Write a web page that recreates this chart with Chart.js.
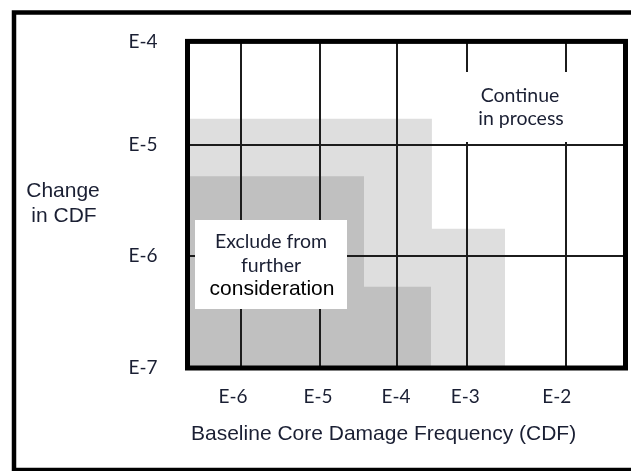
<!DOCTYPE html>
<html><head><meta charset="utf-8">
<script src="https://cdn.jsdelivr.net/npm/chart.js@4.4.1/dist/chart.umd.min.js"></script>
<style>html,body{margin:0;padding:0;background:#fff;overflow:hidden}#wrap{width:631px;height:471px;position:relative}</style>
</head><body><div id="wrap"><canvas id="c" width="631" height="471"></canvas></div>
<script>
// Decade positions along each (schematic, non-uniform) axis, 0..100 of the plot
const xTickLabels = ['E-6', 'E-5', 'E-4', 'E-3', 'E-2'];
const xGridPos = [12.2, 30.3, 47.8, 63.8, 86.4];
const xLabelPos = [10.4, 29.8, 47.6, 63.4, 84.3];
const yTickLabels = ['E-7', 'E-6', 'E-5', 'E-4'];
const yTickPos = [0, 34.2, 68.4, 100];
// Staircase regions (step corners, filled down to the axis)
const lightX = [0, 55.8, 72.5];
const lightY = [76.3, 42.6, 0];
const darkX = [0, 40.3, 55.6];
const darkY = [58.7, 24.9, 0];
const xAxisTitle = 'Baseline Core Damage Frequency (CDF)';
const yAxisTitle = ['Change', 'in CDF'];
const continueText = ['Continue', 'in process'];
const excludeText = ['Exclude from', 'further', 'consideration'];

const toPts = (xs, ys) => xs.map((x, i) => ({x: x, y: ys[i]}));
const CAL = 'Lato, "Open Sans", sans-serif';
const ARI = '"Liberation Sans", Arial, sans-serif';
const TXT = '#1a1f33';

const decor = {
  id: 'decor',
  afterDraw(chart) {
    const ctx = chart.ctx, a = chart.chartArea;
    ctx.save();
    // white label boxes (cover grid)
    ctx.fillStyle = '#fff';
    ctx.fillRect(462, 72, 116, 70);
    ctx.fillRect(195, 220, 152, 89);
    // texts
    ctx.textAlign = 'center';
    ctx.textBaseline = 'alphabetic';
    ctx.fillStyle = TXT;
    ctx.font = '19.5px ' + CAL;
    ctx.fillText(continueText[0], 520, 102);
    ctx.fillText(continueText[1], 521, 125);
    ctx.fillText(excludeText[0], 271, 248);
    ctx.fillText(excludeText[1], 271, 272);
    ctx.fillStyle = '#000';
    ctx.font = '21px ' + ARI;
    ctx.fillText(excludeText[2], 272, 295);
    ctx.fillStyle = TXT;
    ctx.fillText(yAxisTitle[0], 63, 197);
    ctx.fillText(yAxisTitle[1], 64, 222);
    ctx.textAlign = 'left';
    ctx.fillText(xAxisTitle, 191, 440);
    // thick plot border
    ctx.strokeStyle = '#000';
    ctx.lineWidth = 5;
    ctx.strokeRect(a.left, a.top, a.right - a.left, a.bottom - a.top);
    // outer frame
    ctx.lineWidth = 4.5;
    ctx.strokeRect(14, 12.5, 640, 457.5);
    ctx.restore();
  }
};

new Chart(document.getElementById('c'), {
  type: 'line',
  data: {
    datasets: [
      {data: toPts(darkX, darkY), stepped: true, fill: 'start', backgroundColor: '#c0c0c0',
       borderColor: 'rgba(0,0,0,0)', borderWidth: 0, pointRadius: 0},
      {data: toPts(lightX, lightY), stepped: true, fill: 'start', backgroundColor: '#dedede',
       borderColor: 'rgba(0,0,0,0)', borderWidth: 0, pointRadius: 0}
    ]
  },
  options: {
    responsive: false, animation: false, events: [],
    layout: {padding: {left: 0, top: 39, right: 5.5, bottom: 0}},
    plugins: {legend: {display: false}, tooltip: {enabled: false}, filler: {drawTime: 'beforeDraw'}},
    scales: {
      x: {
        type: 'linear', min: 0, max: 100, position: 'bottom',
        afterBuildTicks: s => { s.ticks = xGridPos.map(v => ({value: v})); },
        afterFit: s => { s.height = 0; },
        grid: {color: '#1c1c1c', lineWidth: 2, drawTicks: false},
        border: {display: false},
        ticks: {display: false}
      },
      xl: {
        type: 'linear', min: 0, max: 100, position: 'bottom',
        afterBuildTicks: s => { s.ticks = xLabelPos.map(v => ({value: v})); },
        afterFit: s => { s.height = 103; },
        grid: {display: false, drawTicks: false},
        border: {display: false},
        ticks: {padding: 17, color: TXT, font: {family: CAL, size: 19}, autoSkip: false, maxRotation: 0,
                callback: (v, i) => xTickLabels[i]}
      },
      y: {
        type: 'linear', min: 0, max: 100,
        afterBuildTicks: s => { s.ticks = yTickPos.map(v => ({value: v})); },
        afterFit: s => { s.width = 187.5; },
        grid: {color: '#1c1c1c', lineWidth: 2, drawTicks: false},
        border: {display: false},
        ticks: {padding: 30, color: TXT, font: {family: CAL, size: 19}, autoSkip: false,
                callback: (v, i) => yTickLabels[i]}
      }
    }
  },
  plugins: [decor]
});
</script></body></html>
